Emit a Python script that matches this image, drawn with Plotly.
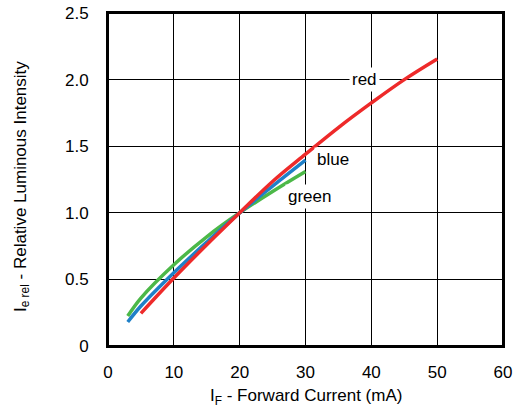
import plotly.graph_objects as go

red_x = [5, 10, 15, 20, 25, 30, 35, 40, 45, 50]
red_y = [0.245, 0.51, 0.76, 1.0, 1.235, 1.44, 1.64, 1.825, 2.0, 2.155]
blue_x = [3, 5, 10, 15, 20, 25, 30]
blue_y = [0.18, 0.30, 0.55, 0.78, 1.0, 1.2, 1.395]
green_x = [3, 5, 10, 15, 20, 25, 30]
green_y = [0.225, 0.36, 0.61, 0.82, 1.0, 1.16, 1.31]

x_ticks = [0, 10, 20, 30, 40, 50, 60]
y_ticks = [0, 0.5, 1.0, 1.5, 2.0, 2.5]
y_tick_text = ["0", "0.5", "1.0", "1.5", "2.0", "2.5"]

labels = [("red", 39.0, 2.0), ("blue", 34.2, 1.40), ("green", 30.6, 1.12)]

FONT = "Liberation Sans, Arial"
FS = 17

fig = go.Figure()
for xs, ys, col in [(green_x, green_y, "#4cb848"), (blue_x, blue_y, "#1f80c8"), (red_x, red_y, "#ee2a2a")]:
    fig.add_trace(go.Scatter(x=xs, y=ys, mode="lines", line=dict(color=col, width=3.5, shape="spline"),
                             showlegend=False, hoverinfo="skip"))

for text, lx, ly in labels:
    fig.add_annotation(x=lx, y=ly, text=text, showarrow=False, bgcolor="white",
                       font=dict(family=FONT, size=FS, color="black"), borderpad=2)

fig.add_annotation(xref="paper", yref="paper", x=0.5, y=-0.153, xanchor="center", yanchor="middle",
                   text="I<sub>F</sub> - Forward Current (mA)", showarrow=False,
                   font=dict(family=FONT, size=FS, color="black"))
fig.add_annotation(xref="paper", yref="paper", x=-0.218, y=0.48, xanchor="center", yanchor="middle",
                   text="I<sub>e rel</sub> - Relative Luminous Intensity", showarrow=False, textangle=-90,
                   font=dict(family=FONT, size=FS, color="black"))

# frame around the plot area
fig.add_shape(type="rect", xref="paper", yref="paper", x0=0, y0=0, x1=1, y1=1,
              line=dict(color="black", width=2), layer="above")

axis_common = dict(showgrid=True, gridcolor="black", gridwidth=1.3, zeroline=False,
                   showline=True, linecolor="black", linewidth=2, mirror=True, automargin=False,
                   ticks="", ticklabeloverflow="allow",
                   tickfont=dict(family=FONT, size=FS, color="black"))

fig.update_xaxes(range=[0, 60], tickvals=x_ticks, ticklabelstandoff=10, **axis_common)
fig.update_yaxes(range=[0, 2.5], tickvals=y_ticks, ticktext=y_tick_text, ticklabelstandoff=14, **axis_common)

fig.update_layout(width=518, height=412, margin=dict(l=108, r=15, t=13, b=66),
                  plot_bgcolor="white", paper_bgcolor="white")

fig.write_html("out.html", config={"displayModeBar": False},
               post_script="document.body.style.margin='0';document.body.style.padding='0';")
